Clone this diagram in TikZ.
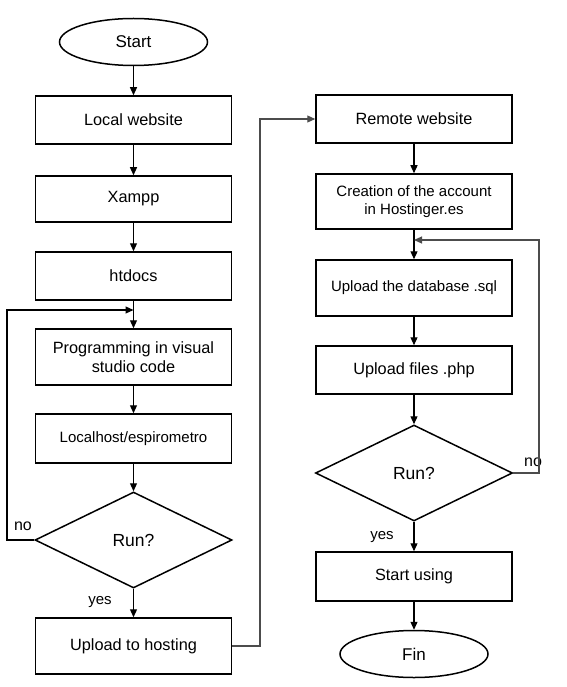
\documentclass[tikz,border=0pt]{standalone}
\usepackage{fontspec}
\setmainfont{Liberation Sans}
\usetikzlibrary{shapes.geometric,arrows.meta}
\begin{document}
\begin{tikzpicture}[x=1pt,y=-1pt,
  box/.style={draw,line width=1.5pt,rectangle,inner sep=0pt,minimum width=196pt,align=center,font=\fontsize{16.3}{18.5}\selectfont},
  smallbox/.style={box,font=\fontsize{15}{18}\selectfont},
  term/.style={draw,line width=1.5pt,ellipse,inner sep=0pt,minimum width=148pt,minimum height=47pt,font=\fontsize{17}{19}\selectfont},
  decision/.style={draw,line width=1.5pt,diamond,inner sep=0pt,minimum width=197pt,minimum height=96pt,font=\fontsize{17.5}{19}\selectfont},
  lbl/.style={inner sep=0pt,font=\fontsize{16}{18}\selectfont},
  arr/.style={line width=1.2pt,-{Triangle[length=8pt,width=7pt]}},
  arrg/.style={line width=1.1pt,draw=black!70,-{Triangle[length=8pt,width=7pt]}}
]
\useasboundingbox[fill=white] (0,0) rectangle (566,687);

% left column
\node[term] (start) at (133.5,42) {Start};
\node[box,minimum height=48pt] (local) at (133.5,120) {Local website};
\node[box,minimum height=46pt] (xampp) at (133.5,199) {Xampp};
\node[box,minimum height=48pt] (htdocs) at (133.5,276) {htdocs};
\node[box,minimum height=56pt] (prog) at (133.5,357) {Programming in visual\\studio code};
\node[smallbox,minimum height=49pt] (lhost) at (133.5,438.5) {Localhost/espirometro};
\node[decision] (d1) at (133.5,540) {Run?};
\node[box,minimum height=56pt] (upl) at (133.5,646) {Upload to hosting};

% right column
\node[box,minimum height=48pt] (remote) at (414,119) {Remote website};
\node[smallbox,minimum height=55pt] (acct) at (414,201.5) {Creation of the account\\in Hostinger.es};
\node[smallbox,minimum height=56pt] (udb) at (414,288) {Upload the database .sql};
\node[box,minimum height=48pt] (ufiles) at (414,370) {Upload files .php};
\node[decision] (d2) at (414,473) {Run?};
\node[box,minimum height=49pt] (use) at (414,576.5) {Start using};
\node[term] (fin) at (414,654) {Fin};

% labels
\node[lbl] (no1) at (23,526) {no};
\node[lbl,font=\fontsize{15}{17}\selectfont] (yes1) at (100,602) {yes};
\node[lbl] (no2) at (533,462) {no};
\node[lbl,font=\fontsize{15}{17}\selectfont] (yes2) at (382,537) {yes};

% helper coordinates
\coordinate (lx) at (7,0);
\coordinate (j1) at (133.5,310);
\coordinate (mx) at (260,0);
\coordinate (rx) at (539,0);
\coordinate (j2) at (414,240);

% left arrows
\draw[arr] (start) -- (local);
\draw[arr] (local) -- (xampp);
\draw[arr] (xampp) -- (htdocs);
\draw[arr] (htdocs) -- (prog);
\draw[arr] (prog) -- (lhost);
\draw[arr] (lhost) -- (d1);
\draw[arr] (d1) -- (upl);
\draw[arr] (d1.west) -- (d1.west -| lx) |- (j1);

% connection to right column
\draw[arrg] (upl.east) -- (upl.east -| mx) |- (remote.west);

% right arrows
\draw[arr] (remote) -- (acct);
\draw[arr] (acct) -- (udb);
\draw[arr] (udb) -- (ufiles);
\draw[arr] (ufiles) -- (d2);
\draw[arr] (d2) -- (use);
\draw[arr] (use) -- (fin);
\draw[arrg] (d2.east) -- (d2.east -| rx) |- (j2);
\end{tikzpicture}
\end{document}
